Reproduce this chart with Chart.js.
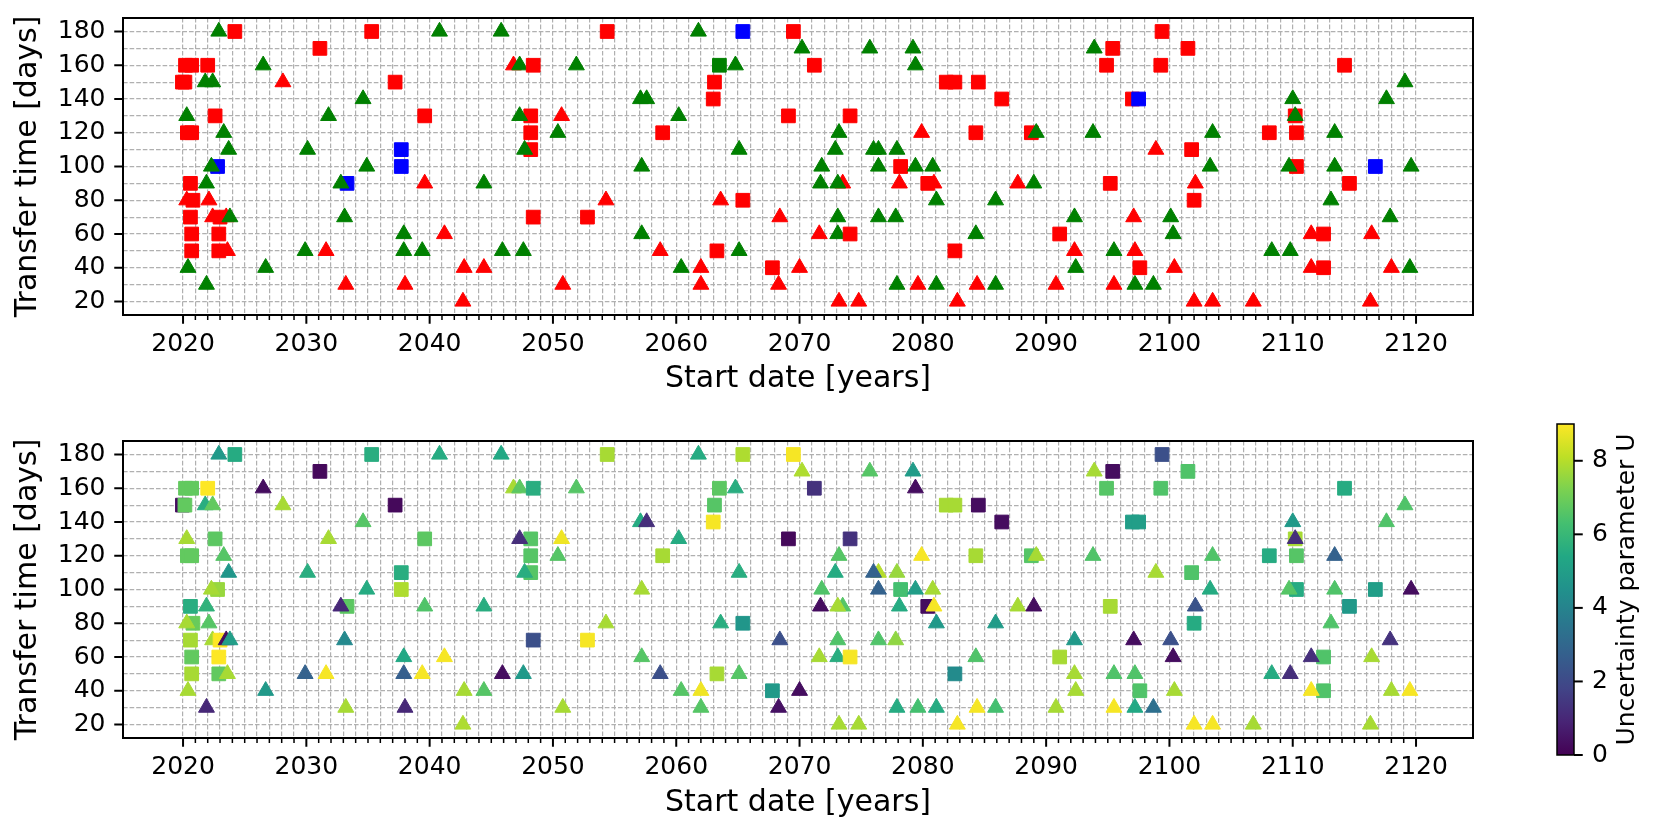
<!DOCTYPE html>
<html>
<head>
<meta charset="utf-8">
<script src="https://cdn.jsdelivr.net/npm/chart.js@4/dist/chart.umd.min.js"></script>
<style>
  html, body { margin: 0; padding: 0; background: #ffffff; width: 1660px; height: 838px; overflow: hidden; }
  canvas { position: absolute; }
</style>
</head>
<body>
<canvas id="topChart" width="1500" height="420" style="left:0px;top:0px"></canvas>
<canvas id="bottomChart" width="1500" height="418" style="left:0px;top:420px"></canvas>
<canvas id="cbarChart" width="160" height="380" style="left:1500px;top:400px"></canvas>
<script>
// ---------------- DATA ----------------
// One line per transfer-time row (180 -> 20 days), four blocks of years.
const startYear = [
  // block 2015-2043
  2022.9, 2024.2, 2035.3, 2040.8,
  2031.1,
  2020.2, 2020.7, 2022.0, 2026.5,
  2019.95, 2020.15, 2021.8, 2022.4, 2028.1, 2037.2,
  2034.6,
  2020.3, 2022.6, 2031.8, 2039.6,
  2020.35, 2020.7, 2023.3,
  2023.7, 2030.1, 2037.7,
  2022.8, 2022.3, 2034.9, 2037.7,
  2020.6, 2021.9, 2033.3, 2032.8, 2039.6,
  2020.8, 2020.3, 2022.1,
  2020.6, 2022.4, 2023.0, 2023.5, 2023.8, 2033.1,
  2020.7, 2022.9, 2037.9, 2041.2,
  2020.7, 2022.9, 2023.6, 2029.9, 2031.6, 2037.9, 2039.4,
  2020.4, 2026.7, 2042.8,
  2021.9, 2033.2, 2038.0,
  2042.7,
  // block 2043-2071
  2045.8, 2054.4, 2061.8, 2065.4, 2069.5,
  2070.2,
  2046.8, 2047.3, 2048.4, 2051.9, 2063.5, 2064.8, 2071.2,
  2063.1,
  2057.1, 2057.6, 2063.0,
  2048.2, 2047.3, 2050.7, 2060.2, 2069.1,
  2048.2, 2050.4, 2058.9,
  2048.2, 2047.7, 2065.1,
  2057.2,
  2044.4,
  2054.3, 2063.6, 2065.4,
  2048.4, 2052.8, 2068.4,
  2057.2,
  2045.9, 2047.6, 2058.7, 2063.3, 2065.1,
  2044.4, 2060.4, 2062.0, 2067.8, 2070.0,
  2050.8, 2062.0, 2068.3,
  // block 2071-2098
  2075.7, 2079.2, 2093.9, 2095.4,
  2079.4, 2094.9,
  2081.9, 2082.6, 2084.5,
  2086.4, 2097.0, 2097.5,
  2074.1,
  2073.2, 2079.9, 2084.3, 2088.8, 2089.2, 2093.8,
  2072.9, 2076.4, 2076.0, 2077.9,
  2071.8, 2076.4, 2078.2, 2079.4, 2080.8,
  2071.7, 2073.5, 2073.1, 2078.1, 2080.4, 2080.9, 2087.7, 2089.0, 2095.2,
  2081.1, 2085.9,
  2073.1, 2076.4, 2077.8, 2092.3, 2097.1,
  2071.6, 2073.1, 2074.1, 2084.3, 2091.1,
  2082.6, 2092.3, 2095.5, 2097.2,
  2092.4, 2097.6,
  2077.9, 2079.6, 2081.1, 2084.4, 2085.9, 2090.8, 2095.5, 2097.2, 2098.7,
  2073.2, 2074.8, 2082.8,
  // block 2098-2125
  2099.4,
  2101.5,
  2099.3, 2114.2,
  2119.1,
  2110.0, 2117.6,
  2110.2, 2110.2,
  2103.5, 2108.1, 2110.3, 2113.4,
  2098.9, 2101.8,
  2103.3, 2110.3, 2109.7, 2113.4, 2116.7, 2119.6,
  2102.1, 2114.6,
  2102.0, 2113.1,
  2100.1, 2117.9,
  2100.3, 2112.5, 2111.5, 2116.4,
  2108.3, 2109.8,
  2100.4, 2112.5, 2111.5, 2118.0, 2119.5,
  2102.0, 2103.5, 2106.8, 2116.3
];

const transferDays = [
  // block 2015-2043
  180, 180, 180, 180,
  170,
  160, 160, 160, 160,
  150, 150, 150, 150, 150, 150,
  140,
  130, 130, 130, 130,
  120, 120, 120,
  110, 110, 110,
  100, 100, 100, 100,
  90, 90, 90, 90, 90,
  80, 80, 80,
  70, 70, 70, 70, 70, 70,
  60, 60, 60, 60,
  50, 50, 50, 50, 50, 50, 50,
  40, 40, 40,
  30, 30, 30,
  20,
  // block 2043-2071
  180, 180, 180, 180, 180,
  170,
  160, 160, 160, 160, 160, 160, 160,
  150,
  140, 140, 140,
  130, 130, 130, 130, 130,
  120, 120, 120,
  110, 110, 110,
  100,
  90,
  80, 80, 80,
  70, 70, 70,
  60,
  50, 50, 50, 50, 50,
  40, 40, 40, 40, 40,
  30, 30, 30,
  // block 2071-2098
  170, 170, 170, 170,
  160, 160,
  150, 150, 150,
  140, 140, 140,
  130,
  120, 120, 120, 120, 120, 120,
  110, 110, 110, 110,
  100, 100, 100, 100, 100,
  90, 90, 90, 90, 90, 90, 90, 90, 90,
  80, 80,
  70, 70, 70, 70, 70,
  60, 60, 60, 60, 60,
  50, 50, 50, 50,
  40, 40,
  30, 30, 30, 30, 30, 30, 30, 30, 30,
  20, 20, 20,
  // block 2098-2125
  180,
  170,
  160, 160,
  150,
  140, 140,
  130, 130,
  120, 120, 120, 120,
  110, 110,
  100, 100, 100, 100, 100, 100,
  90, 90,
  80, 80,
  70, 70,
  60, 60, 60, 60,
  50, 50,
  40, 40, 40, 40, 40,
  20, 20, 20, 20
];

// marker per point: s = square, t = triangle (same row layout as above)
const markerShape = [
  'tsst', 's', 'ssst', 'ssttts', 't', 'tsts', 'sst', 'tts', 'stts', 'ststt', 'stt', 'ststtt', 'sstt', 'ssttttt', 'ttt', 'ttt', 't',
  'tstss', 't', 'ttststs', 's', 'tts', 'sttts', 'sts', 'stt', 't', 't', 'tts', 'sst', 't', 'tttst', 'tttst', 'ttt',
  'ttts', 'ts', 'sss', 'sss', 's', 'ttsstt', 'tttt', 'ttstt', 'ttttsttts', 'tt', 'ttttt', 'ttsts', 'sttt', 'ts', 'ttttttttt', 'ttt',
  's', 's', 'ss', 't', 'tt', 'st', 'tsst', 'ts', 'tsttst', 'ts', 'st', 'tt', 'tstt', 'tt', 'tsttt', 'tttt'
].join('');

// category of the upper panel: r = red, g = green, b = blue
const category = [
  'grrg', 'r', 'rrrg', 'rrggrr', 'g', 'grgr', 'rrg', 'ggb', 'bggb', 'rgbgr', 'rrr', 'rrrrgg', 'rrgr', 'rrrgrgg', 'ggr', 'grr', 'r',
  'grgbr', 'g', 'rgrgggr', 'r', 'ggr', 'rgrgr', 'rgr', 'rgg', 'g', 'g', 'rrr', 'rrr', 'g', 'ggrrg', 'rgrrr', 'rrr',
  'gggr', 'gr', 'rrr', 'rrb', 'r', 'grrrgg', 'gggg', 'ggrgg', 'grgrrrrgr', 'gg', 'ggggr', 'rgrgr', 'rrgr', 'gr', 'grgrgrrgg', 'rrr',
  'r', 'r', 'rr', 'g', 'gg', 'rg', 'grrg', 'rr', 'grggbg', 'rr', 'rg', 'gg', 'grrr', 'gg', 'rrrrg', 'rrrr'
].join('');

// uncertainty parameter U of each point (lower panel colour)
const uncertainty = [
  // block 2015-2043
  4.8, 5.5, 5.6, 5.5,
  0.2,
  6.8, 6.8, 9.0, 0.3,
  0.3, 6.8, 5.6, 6.8, 7.8, 0.2,
  6.6,
  7.8, 6.7, 7.8, 6.7,
  6.8, 6.8, 6.6,
  4.7, 5.6, 5.6,
  7.6, 7.8, 5.5, 7.9,
  5.6, 5.8, 6.7, 1.0, 6.5,
  6.9, 7.8, 6.6,
  7.8, 7.8, 9.0, 0.3, 5.0, 4.2,
  6.8, 9.0, 5.4, 8.9,
  7.8, 6.8, 7.8, 2.8, 8.9, 2.7, 8.9,
  7.8, 4.8, 7.8,
  1.0, 7.8, 1.0,
  7.9,
  // block 2043-2071
  5.4, 7.8, 5.5, 7.9, 8.9,
  7.9,
  7.8, 6.7, 5.6, 6.6, 6.7, 5.6, 1.3,
  6.6,
  5.5, 1.2, 8.9,
  6.6, 1.2, 8.8, 5.5, 0.2,
  6.6, 6.6, 7.8,
  6.6, 5.6, 5.6,
  7.8,
  5.6,
  7.8, 5.6, 4.7,
  2.2, 8.9, 2.2,
  6.6,
  0.3, 4.8, 2.2, 7.8, 6.6,
  6.6, 6.6, 8.8, 4.8, 0.3,
  7.8, 6.6, 0.4,
  // block 2071-2098
  6.6, 4.9, 7.8, 0.3,
  0.3, 6.6,
  7.8, 7.8, 0.3,
  0.3, 5.0, 5.0,
  1.3,
  6.6, 8.9, 7.8, 6.6, 7.8, 6.5,
  5.5, 8.0, 2.8, 7.6,
  6.5, 2.8, 6.3, 5.0, 7.8,
  0.3, 6.6, 7.8, 5.5, 0.3, 8.9, 7.8, 0.3, 7.8,
  4.8, 4.9,
  6.5, 6.5, 7.5, 4.8, 0.3,
  7.8, 5.6, 8.9, 6.5, 7.8,
  4.3, 7.8, 6.5, 6.5,
  7.8, 6.5,
  5.5, 6.3, 5.5, 8.9, 6.3, 7.8, 8.9, 5.4, 3.3,
  7.8, 7.8, 8.9,
  // block 2098-2125
  2.2,
  6.5,
  6.5, 5.5,
  6.5,
  4.8, 6.5,
  7.8, 1.2,
  6.5, 5.5, 6.6, 2.8,
  7.8, 6.5,
  5.5, 5.5, 6.6, 6.5, 5.0, 0.3,
  2.3, 4.8,
  5.5, 6.5,
  2.2, 1.3,
  0.3, 6.5, 1.2, 7.8,
  5.5, 1.2,
  7.8, 6.5, 8.9, 7.8, 8.9,
  8.9, 8.9, 7.8, 7.8
];

// tick labels / grid positions
const xMajorTicks = [2020, 2030, 2040, 2050, 2060, 2070, 2080, 2090, 2100, 2110, 2120];
const yMajorTicks = [20, 40, 60, 80, 100, 120, 140, 160, 180];
const yGridDays   = [20, 30, 40, 50, 60, 70, 80, 90, 100, 110, 120, 130, 140, 150, 160, 170, 180];
const cbarTicks   = [0, 2, 4, 6, 8];
const uRange      = [0, 9];

// ---------------- STYLE ----------------
const FONT = 'DejaVu Sans';
Chart.defaults.font.family = FONT;
Chart.defaults.color = '#000000';

const xLimits = [2015.13, 2124.62];
const yLimits = [12, 188];
const xGridYears = [];
for (let v = xMajorTicks[0]; v <= xMajorTicks[xMajorTicks.length - 1]; v++) xGridYears.push(v);

const catColor = { r: '#ff0000', g: '#008000', b: '#0000ff' };
const viridisStops = ['#440154', '#482475', '#414487', '#355f8d', '#2a788e', '#21918c',
                      '#22a884', '#44bf70', '#7ad151', '#bddf26', '#fde725'];
function hexRgb(h) { return [1, 3, 5].map(i => parseInt(h.slice(i, i + 2), 16)); }
function viridis(t) {
  t = Math.max(0, Math.min(1, t));
  const p = t * (viridisStops.length - 1);
  const i = Math.min(Math.floor(p), viridisStops.length - 2);
  const f = p - i;
  const a = hexRgb(viridisStops[i]), b = hexRgb(viridisStops[i + 1]);
  const c = a.map((v, k) => Math.round(v + (b[k] - v) * f));
  return `rgb(${c[0]},${c[1]},${c[2]})`;
}
function uColor(u) { return viridis((u - uRange[0]) / (uRange[1] - uRange[0])); }

const points = startYear.map((x, i) => ({ x: x, y: transferDays[i] }));
const pointStyles = Array.from(markerShape, m => (m === 's' ? 'rect' : 'triangle'));
const pointRadii = Array.from(markerShape, m => (m === 's' ? 9.7 : 9.2));
const topColors = Array.from(category, c => catColor[c]);
const bottomColors = uncertainty.map(uColor);

const frameAndTicks = {
  id: 'frameAndTicks',
  afterDraw(chart) {
    const { ctx, chartArea: a } = chart;
    const sx = chart.scales.x, sy = chart.scales.y;
    ctx.save();
    ctx.strokeStyle = '#000000';
    sx.ticks.forEach(t => {
      const major = xMajorTicks.includes(t.value);
      const px = sx.getPixelForValue(t.value);
      ctx.lineWidth = major ? 2 : 1.5;
      ctx.beginPath();
      ctx.moveTo(px, a.bottom);
      ctx.lineTo(px, a.bottom + (major ? 8.75 : 5));
      ctx.stroke();
    });
    sy.ticks.forEach(t => {
      if (!yMajorTicks.includes(t.value)) return;
      const py = sy.getPixelForValue(t.value);
      ctx.lineWidth = 2;
      ctx.beginPath();
      ctx.moveTo(a.left, py);
      ctx.lineTo(a.left - 8.75, py);
      ctx.stroke();
    });
    ctx.lineWidth = 2;
    ctx.strokeRect(a.left, a.top, a.right - a.left, a.bottom - a.top);
    ctx.restore();
  }
};

function scatterConfig(colors, padTop, xAxisHeight, xTitlePad) {
  return {
    type: 'scatter',
    data: {
      datasets: [{
        data: points,
        pointStyle: pointStyles,
        pointRadius: pointRadii,
        pointHoverRadius: pointRadii,
        pointBackgroundColor: colors,
        pointBorderColor: colors,
        pointBorderWidth: 1,
        showLine: false
      }]
    },
    options: {
      responsive: false,
      animation: false,
      devicePixelRatio: 1,
      events: [],
      layout: { padding: { left: 0, top: padTop, right: 27, bottom: 0 } },
      plugins: { legend: { display: false }, tooltip: { enabled: false } },
      scales: {
        x: {
          type: 'linear',
          min: xLimits[0],
          max: xLimits[1],
          afterBuildTicks: s => { s.ticks = xGridYears.map(v => ({ value: v })); },
          afterFit: s => { s.height = xAxisHeight; s.paddingLeft = 0; s.paddingRight = 0; },
          ticks: {
            autoSkip: false, maxRotation: 0, minRotation: 0, padding: 14.5,
            color: '#000000', font: { family: FONT, size: 25 },
            callback: v => (xMajorTicks.includes(v) ? String(v) : '')
          },
          grid: { drawTicks: false, color: '#b0b0b0', lineWidth: 1.2 },
          border: { display: false, dash: [4.6, 2] },
          title: {
            display: true, text: 'Start date [years]', color: '#000000',
            font: { family: FONT, size: 30 }, padding: { top: 0, bottom: xTitlePad }
          }
        },
        y: {
          type: 'linear',
          min: yLimits[0],
          max: yLimits[1],
          afterBuildTicks: s => { s.ticks = yGridDays.map(v => ({ value: v })); },
          afterFit: s => { s.width = 123; s.paddingTop = 0; s.paddingBottom = 0; },
          ticks: {
            autoSkip: false, padding: 17.5,
            color: '#000000', font: { family: FONT, size: 25 },
            callback: v => (yMajorTicks.includes(v) ? String(v) : '')
          },
          grid: { drawTicks: false, color: '#b0b0b0', lineWidth: 1.2 },
          border: { display: false, dash: [4.6, 2] },
          title: {
            display: true, text: 'Transfer time [days]', color: '#000000',
            font: { family: FONT, size: 30 }, padding: { top: 10, bottom: 0 }
          }
        }
      }
    },
    plugins: [frameAndTicks]
  };
}

new Chart(document.getElementById('topChart'), scatterConfig(topColors, 18, 105, 22.4));
new Chart(document.getElementById('bottomChart'), scatterConfig(bottomColors, 21, 100, 17.1));

// ---------------- COLORBAR ----------------
const cbarDecor = {
  id: 'cbarDecor',
  afterDraw(chart) {
    const { ctx, chartArea: a } = chart;
    const sy = chart.scales.y;
    ctx.save();
    ctx.strokeStyle = '#000000';
    sy.ticks.forEach(t => {
      const py = sy.getPixelForValue(t.value);
      ctx.lineWidth = 2;
      ctx.beginPath();
      ctx.moveTo(a.right, py);
      ctx.lineTo(a.right + 8.75, py);
      ctx.stroke();
    });
    ctx.lineWidth = 1.5;
    ctx.strokeRect(a.left, a.top, a.right - a.left, a.bottom - a.top);
    ctx.fillStyle = '#000000';
    ctx.font = `25px "${FONT}"`;
    ctx.textAlign = 'center';
    ctx.textBaseline = 'middle';
    ctx.translate(127.5, (a.top + a.bottom) / 2);
    ctx.rotate(-Math.PI / 2);
    ctx.fillText('Uncertainty parameter U', 0, 0);
    ctx.restore();
  }
};

new Chart(document.getElementById('cbarChart'), {
  type: 'bar',
  data: {
    labels: ['U'],
    datasets: [{
      data: [uRange],
      borderWidth: 0,
      barPercentage: 1,
      categoryPercentage: 1,
      backgroundColor: (c) => {
        const a = c.chart.chartArea;
        if (!a) return viridisStops[5];
        const g = c.chart.ctx.createLinearGradient(0, a.bottom, 0, a.top);
        viridisStops.forEach((col, i) => g.addColorStop(i / (viridisStops.length - 1), col));
        return g;
      }
    }]
  },
  options: {
    responsive: false,
    animation: false,
    devicePixelRatio: 1,
    events: [],
    layout: { padding: { left: 57, top: 24, right: 0, bottom: 25 } },
    plugins: { legend: { display: false }, tooltip: { enabled: false } },
    scales: {
      x: { display: false },
      y: {
        position: 'right',
        min: uRange[0],
        max: uRange[1],
        afterBuildTicks: s => { s.ticks = cbarTicks.map(v => ({ value: v })); },
        afterFit: s => { s.width = 86; s.paddingTop = 0; s.paddingBottom = 0; },
        ticks: { padding: 18, color: '#000000', font: { family: FONT, size: 25 } },
        grid: { display: false, drawTicks: false },
        border: { display: false }
      }
    }
  },
  plugins: [cbarDecor]
});
</script>
</body>
</html>
